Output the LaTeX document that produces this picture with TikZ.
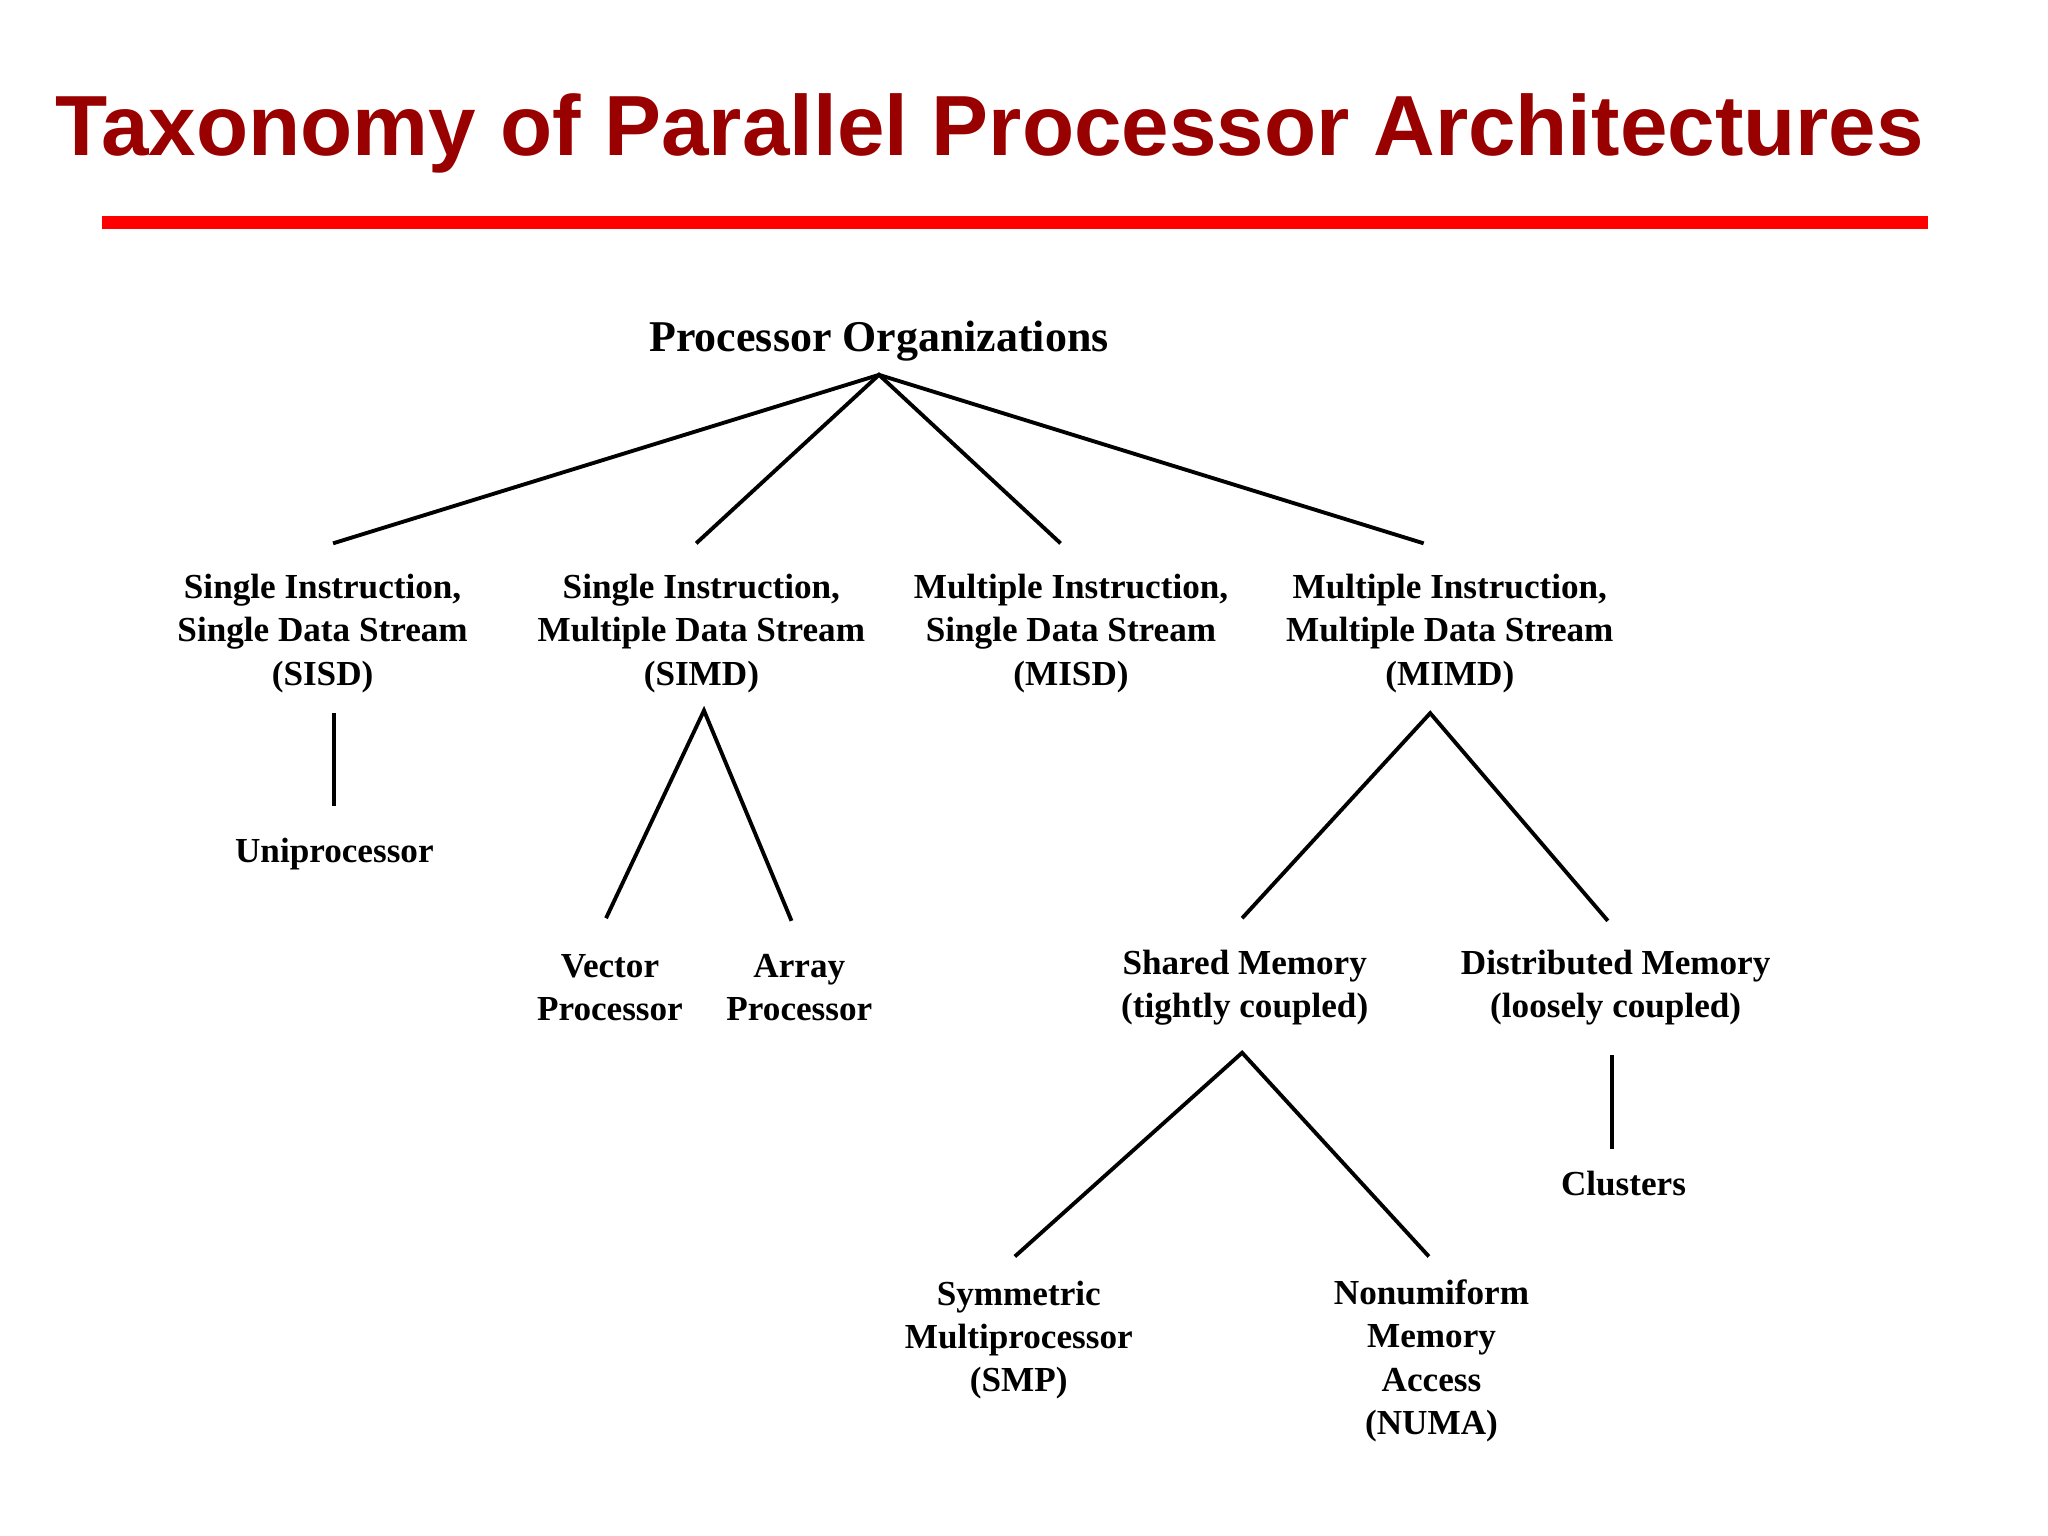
\documentclass[tikz,border=0pt]{standalone}
\usepackage{fontspec}
\setmainfont{Liberation Serif}
\newfontfamily\titlefont{Liberation Sans}
\usetikzlibrary{positioning}
\definecolor{darkred}{HTML}{990000}
\tikzset{
  lbl/.style={font=\bfseries\fontsize{10}{12.3}\selectfont,align=center,inner sep=0pt},
  branch/.style={line width=1.1pt}
}
\begin{document}
\begin{tikzpicture}[x=0.01306cm,y=-0.01306cm]
				\useasboundingbox (0,0) rectangle (1568,1176);
				% title and rule
				\node[font=\titlefont\bfseries\fontsize{24.3}{27}\selectfont,text=darkred,anchor=west,inner sep=0pt] (title) at (42,102) {Taxonomy of Parallel Processor Architectures};
				\fill[red] (78,165) rectangle (1476,175);

				\begin{scope}[every node/.style={lbl}]
					\node[font=\bfseries\fontsize{12.5}{14}\selectfont] (org) at (673,261) {Processor Organizations};
					\node (sisd) at (247,485) {Single Instruction,\\Single Data Stream\\(SISD)};
					\node (simd) at (537,485) {Single Instruction,\\Multiple Data Stream\\(SIMD)};
					\node (misd) at (820,485) {Multiple Instruction,\\Single Data Stream\\(MISD)};
					\node (mimd) at (1110,485) {Multiple Instruction,\\Multiple Data Stream\\(MIMD)};
					\node (uni) at (256,654) {Uniprocessor};
					\node (vec) at (467,756) {Vector\\Processor};
					\node (arr) at (612,756) {Array\\Processor};
					\node (shm) at (953,756) {Shared Memory\\(tightly coupled)};
					\node (dsm) at (1237,756) {Distributed Memory\\(loosely coupled)};
					\node (clu) at (1243,906) {Clusters};
					\node (smp) at (780,1026) {Symmetric\\Multiprocessor\\(SMP)};
					\node (numa) at (1096,1042) {Nonumiform\\Memory\\Access\\(NUMA)};
				\end{scope}

				\begin{scope}
					\coordinate (orgB) at (673,287);
					\coordinate (sisdT) at (255,416);
					\coordinate (simdT) at (533,416);
					\coordinate (misdT) at (812,416);
					\coordinate (mimdT) at (1090,416);
					\coordinate (sisdB) at (256,546);
					\coordinate (uniT) at (256,617);
					\coordinate (simdB) at (539,544);
					\coordinate (vecT) at (464,703);
					\coordinate (arrT) at (606,705);
					\coordinate (mimdB) at (1095,546);
					\coordinate (shmT) at (951,703);
					\coordinate (dsmT) at (1231,705);
					\coordinate (shmB) at (951,806);
					\coordinate (smpT) at (777,962);
					\coordinate (numaT) at (1094,962);
					\coordinate (dsmB) at (1234,808);
					\coordinate (cluT) at (1234,880);
				\end{scope}

				\begin{scope}[every path/.style={branch}]
					\draw (sisdT) -- (orgB) -- (mimdT);
					\draw (simdT) -- (orgB) -- (misdT);
					\draw (sisdB) -- (uniT);
					\draw (vecT) -- (simdB) -- (arrT);
					\draw (shmT) -- (mimdB) -- (dsmT);
					\draw (smpT) -- (shmB) -- (numaT);
					\draw (dsmB) -- (cluT);
				\end{scope}
			\end{tikzpicture}
\end{document}
